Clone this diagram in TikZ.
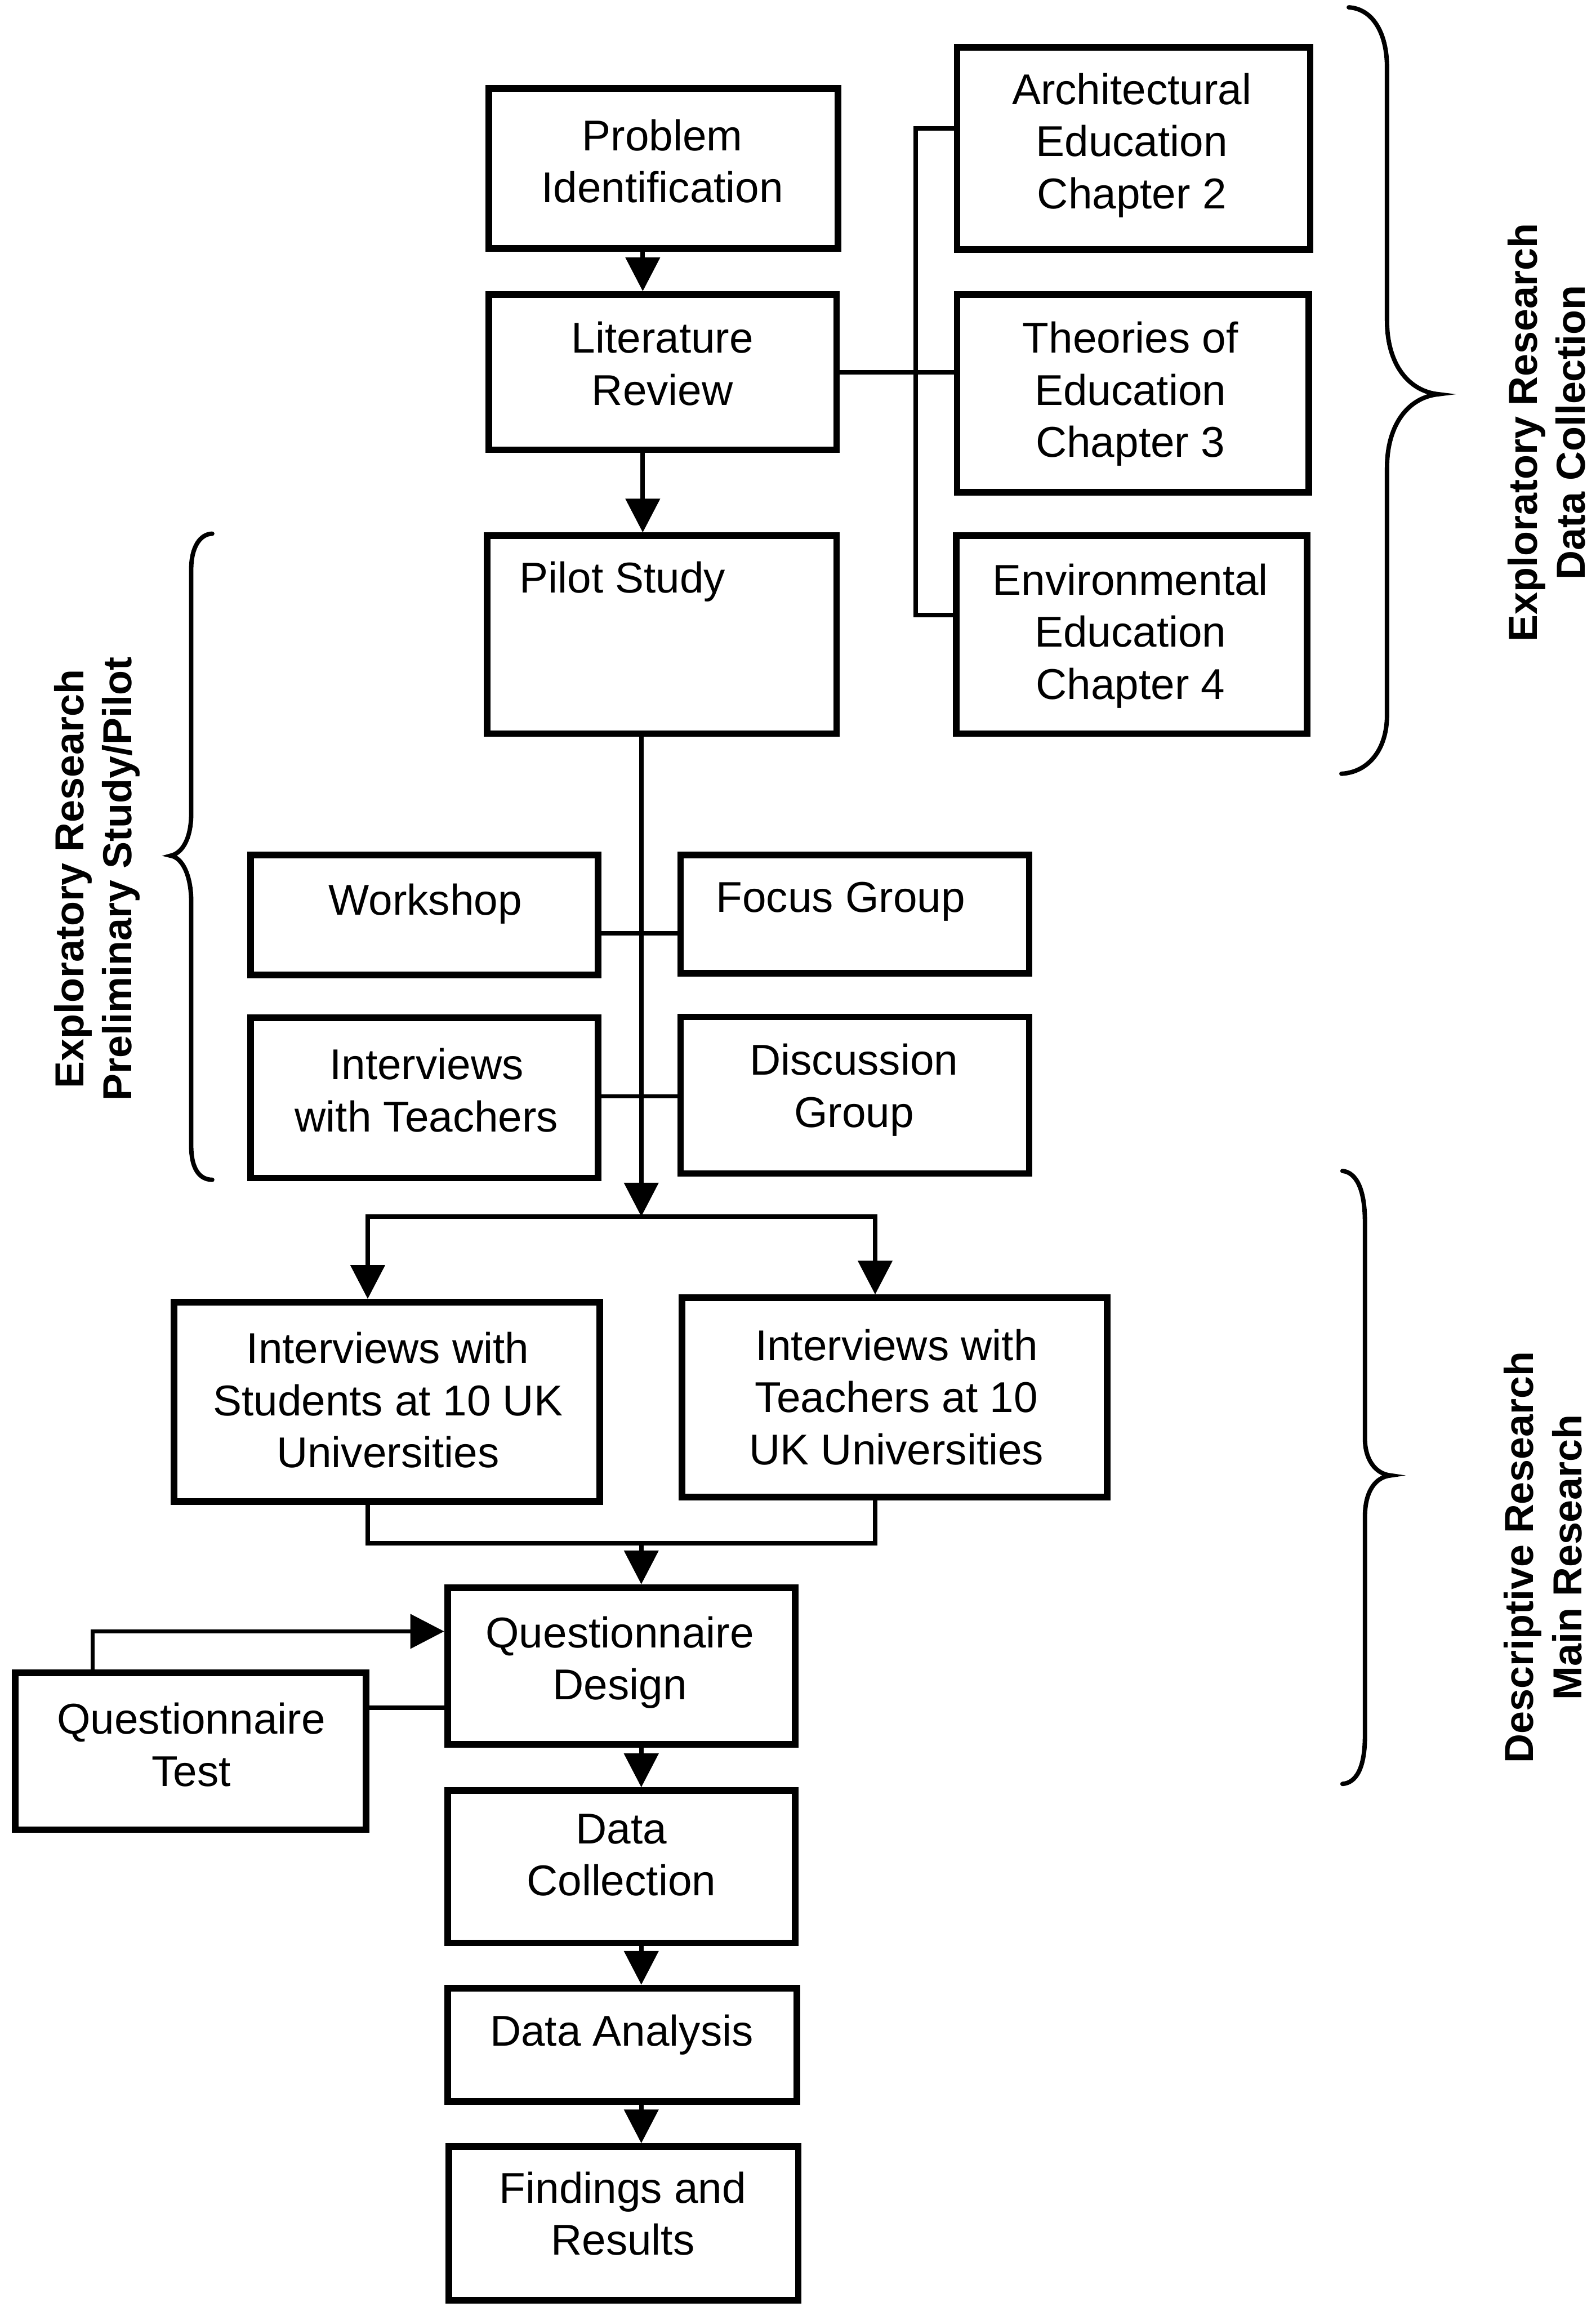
\documentclass[tikz,border=0pt]{standalone}
\usepackage{fontspec}
\setmainfont{Liberation Sans}
\usetikzlibrary{arrows.meta,calc}
\begin{document}
\begin{tikzpicture}[x=0.3mm,y=-0.3mm,
  box/.style={draw, line width=1.35mm, inner sep=0pt},
  bx/.style 2 args={minimum width={(#1-4.5)*0.3mm}, minimum height={(#2-4.5)*0.3mm}},
  txt/.style={inner sep=0pt, align=center, anchor=north, font=\fontsize{25}{30.2}\selectfont},
  lbl/.style={inner sep=0pt, align=center, rotate=90, font=\fontsize{23.5}{28}\selectfont\bfseries},
  con/.style={line width=0.9mm},
  arr/.style={con, -{Triangle[width=6.9mm,length=6.9mm]}},
  brace/.style={line width=0.9mm, line cap=round}
]
\useasboundingbox (0,0) rectangle (1084.9,1568.3);

% boxes
\node[box,bx={242}{113}] (prob) at (451,114.5) {};
\node[box,bx={241}{110}] (lit) at (450.5,253) {};
\node[box,bx={242}{139}] (pilot) at (450,431.5) {};
\node[box,bx={244.5}{142}] (arch) at (770.75,101) {};
\node[box,bx={243.5}{139}] (theo) at (770.25,267.5) {};
\node[box,bx={243}{139}] (env) at (769.5,431.5) {};
\node[box,bx={241}{86}] (work) at (288.5,622) {};
\node[box,bx={241.5}{85}] (focus) at (581.25,621.5) {};
\node[box,bx={241}{113.5}] (intT) at (288.5,746.25) {};
\node[box,bx={241.5}{111}] (disc) at (581.25,744.5) {};
\node[box,bx={294}{140}] (intS) at (263,953) {};
\node[box,bx={293.5}{140}] (intU) at (608.25,950) {};
\node[box,bx={241}{111}] (qd) at (422.5,1132.5) {};
\node[box,bx={243}{111}] (qt) at (129.5,1190.5) {};
\node[box,bx={241}{108}] (dc) at (422.5,1269) {};
\node[box,bx={242}{81.5}] (da) at (423,1390) {};
\node[box,bx={242}{109}] (find) at (424,1511.5) {};

% texts
\node[txt] (probT) at (450.4,81) {Problem\\Identification};
\node[txt] (litT) at (450.4,218.5) {Literature\\Review};
\node[txt,anchor=north west] (pilotT) at (353,381.5) {Pilot Study};
\node[txt] (archT) at (769.5,49.5) {Architectural\\Education\\Chapter 2};
\node[txt] (theoT) at (768.5,218.5) {Theories of\\Education\\Chapter 3};
\node[txt] (envT) at (768.6,383) {Environmental\\Education\\Chapter 4};
\node[txt] (workT) at (289.2,600.7) {Workshop};
\node[txt] (focusT) at (571.5,599.3) {Focus Group};
\node[txt] (intTT) at (290,712.4) {Interviews\\with Teachers};
\node[txt] (discT) at (580.6,709.4) {Discussion\\Group};
\node[txt] (intST) at (263.7,905.4) {Interviews with\\Students at 10 UK\\Universities};
\node[txt] (intUT) at (609.5,903.4) {Interviews with\\Teachers at 10\\UK Universities};
\node[txt] (qdT) at (421.4,1098.5) {Questionnaire\\Design};
\node[txt] (qtT) at (130,1157.4) {Questionnaire\\Test};
\node[txt] (dcT) at (422.4,1232.8) {Data\\Collection};
\node[txt] (daT) at (422.7,1369.2) {Data Analysis};
\node[txt] (findT) at (423.4,1476.1) {Findings and\\Results};

% side labels
\node[lbl] (lblA) at (1051.5,294) {Exploratory Research\\Data Collection};
\node[lbl] (lblB) at (1049,1058.6) {Descriptive Research\\Main Research};
\node[lbl] (lblC) at (66,597.5) {Exploratory Research\\Preliminary Study/Pilot};

% helper coordinates
\coordinate (sp) at (437,0);
\coordinate (split) at (436,827);
\coordinate (sL) at (250,827);
\coordinate (sR) at (595,827);
\coordinate (r1) at (0,634.5);
\coordinate (r2) at (0,745.3);
\coordinate (b1) at (622.7,87.4);
\coordinate (b2) at (622.7,418.2);
\coordinate (m) at (436,1049);
\coordinate (mL) at (250,1049);
\coordinate (mR) at (595,1049);
\coordinate (fb) at (63,1109);
\coordinate (q2) at (0,1161);

% connectors
\draw[arr] (prob.south -| sp) -- (lit.north -| sp);
\draw[arr] (lit.south -| sp) -- (pilot.north -| sp);
\draw[con] (lit.east) -- (lit.east -| theo.west);
\draw[con] (arch.west |- b1) -- (b1) -- (b2) -- (env.west |- b2);
\draw[arr] (pilot.south -| split) -- (split);
\draw[con] (work.east |- r1) -- (focus.west |- r1);
\draw[con] (intT.east |- r2) -- (disc.west |- r2);
\draw[arr] (split) -| (intS.north -| sL);
\draw[arr] (split) -| (intU.north -| sR);
\draw[con] (intS.south -| mL) -- (mL) -- (mR) -- (intU.south -| mR);
\draw[arr] (m) -- (qd.north -| m);
\draw[arr] (qt.north -| fb) -- (fb) -- (qd.west |- fb);
\draw[con] (qt.east |- q2) -- (qd.west |- q2);
\draw[arr] (qd.south -| m) -- (dc.north -| m);
\draw[arr] (dc.south -| m) -- (da.north -| m);
\draw[arr] (da.south -| m) -- (find.north -| m);

% braces
\draw[brace] (917,5) .. controls (933,6) and (943,22) .. (943,46) -- (943,218)
  .. controls (943,248) and (958,266) .. (978,268)
  .. controls (958,270) and (943,288) .. (943,318) -- (943,486)
  .. controls (943,510) and (930,525) .. (912,526);
\draw[brace] (912.7,796) .. controls (922,797) and (928,808) .. (928,831) -- (928,978)
  .. controls (928,992) and (935,1002) .. (945.6,1003)
  .. controls (935,1004) and (928,1014) .. (928,1031) -- (928,1180)
  .. controls (928,1202) and (922,1212) .. (912.7,1212.7);
\draw[brace] (144.3,362.8) .. controls (136,363) and (130,372) .. (130,387) -- (130,553)
  .. controls (130,570) and (124,580) .. (116,581.7)
  .. controls (124,583) and (130,595) .. (130,613) -- (130,779)
  .. controls (130,795) and (136,802) .. (144.3,802);
\end{tikzpicture}
\end{document}
